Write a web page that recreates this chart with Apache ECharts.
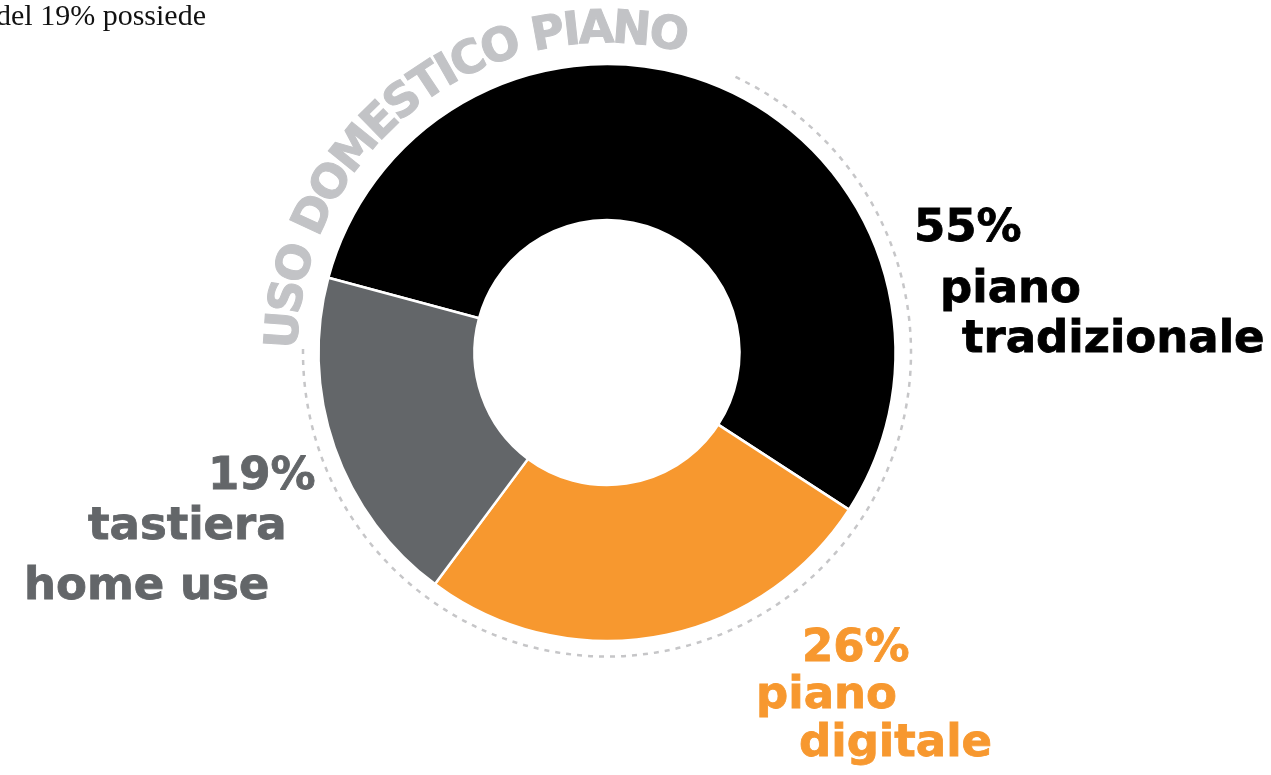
<!DOCTYPE html>
<html>
<head>
<meta charset="utf-8">
<script src="https://cdn.jsdelivr.net/npm/echarts@6/dist/echarts.min.js"></script>
<style>
html,body{margin:0;padding:0;background:#fff;}
#chart{width:1271px;height:775px;}
</style>
</head>
<body>
<div id="chart"></div>
<script>
// ---- data ----
const categories = ['piano\ntradizionale', 'piano\ndigitale', 'tastiera\nhome use'];
const values = [55, 26, 19];
const colors = ['#000000', '#f7982f', '#636669'];
const arcTitle = 'USO DOMESTICO PIANO';
const introText = 'del 19% possiede';

// ---- layout ----
const CX = 607, CY = 352.5;
const R_IN = 132.5, R_OUT = 288.5;
const LABEL_FONT = 'bold 45px "DejaVu Sans"';
// per slice: left x of each line and baseline y of each line
const labelPos = [
  {x: [914, 940, 962], y: [245, 306, 356]},
  {x: [802, 756, 799], y: [665, 712, 760]},
  {x: [208, 88, 24],   y: [493, 543, 603]}
];

const chart = echarts.init(document.getElementById('chart'), null, {renderer: 'canvas'});

const graphics = [];

// dotted guide arc
graphics.push({
  type: 'arc',
  shape: {cx: CX, cy: CY, r: 304, startAngle: -65 * Math.PI / 180, endAngle: 181 * Math.PI / 180, clockwise: true},
  style: {stroke: '#c6c6c8', lineWidth: 2.5, lineDash: [5, 6], fill: null},
  silent: true
});

// curved title
(function () {
  const font = 'bold 46px "DejaVu Sans"';
  const ctx = document.createElement('canvas').getContext('2d');
  ctx.font = font;
  const chars = arcTitle.split('');
  const w = chars.map(c => ctx.measureText(c).width);
  const R = 322;
  const a0 = 176, a1 = 79; // degrees, centre of first and last glyph
  const arcLen = (a0 - a1) * Math.PI / 180 * R;
  const base = w.reduce((s, v) => s + v, 0) - w[0] / 2 - w[w.length - 1] / 2;
  const sp = (arcLen - base) / (chars.length - 1);
  let s = 0;
  chars.forEach((c, i) => {
    if (i > 0) s += w[i - 1] / 2 + w[i] / 2 + sp;
    const th = a0 * Math.PI / 180 - s / R;
    if (c === ' ') return;
    graphics.push({
      type: 'text',
      x: CX + R * Math.cos(th),
      y: CY - R * Math.sin(th),
      rotation: th - Math.PI / 2,
      style: {text: c, font: font, fill: '#c2c3c6', align: 'center', verticalAlign: 'middle',
              stroke: '#c2c3c6', lineWidth: 1},
      silent: true
    });
  });
})();

// slice labels
values.forEach((v, i) => {
  const lines = [v + '%'].concat(categories[i].split('\n'));
  lines.forEach((t, j) => {
    graphics.push({
      type: 'text',
      x: labelPos[i].x[j],
      y: labelPos[i].y[j] - 15.5,
      style: {text: t, font: LABEL_FONT, fill: colors[i], align: 'left', verticalAlign: 'middle',
              stroke: colors[i], lineWidth: 0.8},
      silent: true
    });
  });
});

// intro text (cropped at left)
graphics.push({
  type: 'text',
  x: 206,
  y: 27 - 10,
  style: {text: introText, font: '30px "Liberation Serif"', fill: '#111', align: 'right', verticalAlign: 'middle'},
  silent: true
});

chart.setOption({
  animation: false,
  backgroundColor: '#fff',
  series: [{
    type: 'pie',
    center: [CX, CY],
    radius: [R_IN, R_OUT],
    startAngle: 165,
    clockwise: true,
    avoidLabelOverlap: false,
    label: {show: false},
    labelLine: {show: false},
    emphasis: {disabled: true},
    itemStyle: {borderColor: '#ffffff', borderWidth: 2.5},
    data: values.map((v, i) => ({value: v, name: categories[i], itemStyle: {color: colors[i]}}))
  }],
  graphic: graphics
});
</script>
</body>
</html>
